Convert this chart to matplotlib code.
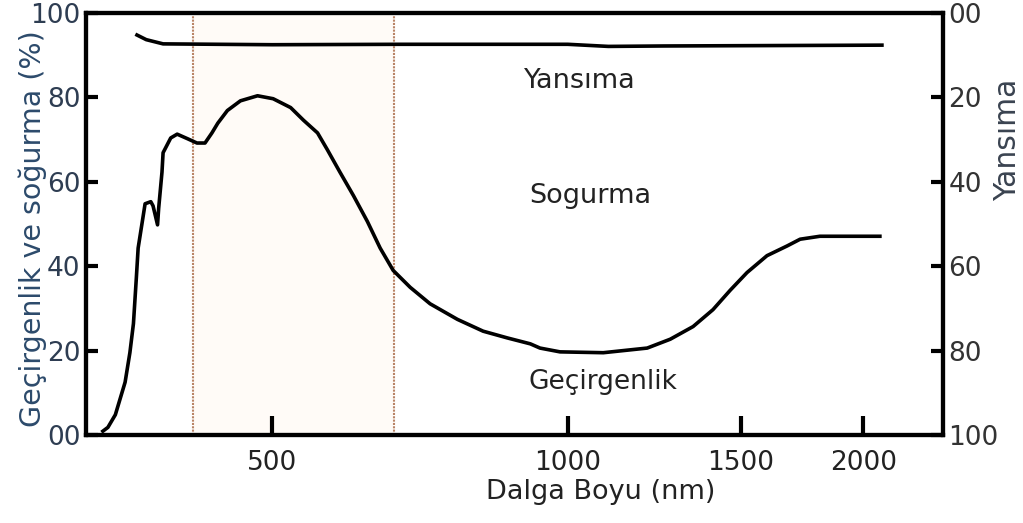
import numpy as np
import matplotlib
matplotlib.use("Agg")
import matplotlib.pyplot as plt
from matplotlib.ticker import FixedLocator, NullLocator, FixedFormatter

plt.rcParams['font.family'] = ['DejaVu Sans']
plt.rcParams['hatch.linewidth'] = 1.2

# gecirgenlik / sogurma egrisi (sol eksen, %)
wl_abs = [336, 340, 346, 354, 358, 361, 363.5, 365, 369, 371,
          376, 378, 382, 383, 386, 387, 394, 400, 410, 419,
          427, 434, 440, 450, 464, 483, 501, 522, 538, 556,
          569, 586, 605, 625, 644, 664, 691, 724, 772, 820,
          868, 916, 937, 982, 1087, 1205, 1272, 1342, 1406, 1464,
          1523, 1596, 1673, 1725, 1807, 2080]
val_abs = [0.9, 1.8, 4.8, 12.5, 19.5, 26.4, 37.4, 44.3, 51.3, 54.8,
           55.3, 54.3, 49.8, 53.7, 62.3, 66.9, 70.4, 71.3, 70.2, 69.2,
           69.2, 71.6, 73.9, 76.9, 79.2, 80.4, 79.7, 77.6, 74.6, 71.6,
           67.6, 62.3, 56.7, 50.6, 44.3, 39.0, 35.0, 31.1, 27.4, 24.6,
           23.0, 21.6, 20.6, 19.7, 19.5, 20.6, 22.7, 25.7, 29.7, 34.3,
           38.5, 42.5, 44.8, 46.4, 47.1, 47.1]

# yansima egrisi (sag eksen, ters)
wl_ref = [364, 372, 387, 500, 675, 1000, 1100, 1250, 2090]
val_ref = [5.2, 6.3, 7.3, 7.5, 7.4, 7.4, 7.9, 7.8, 7.6]

# gorunur bolge
vis_lo, vis_hi = 415, 665

xticks = [500, 1000, 1500, 2000]
yticks = [0, 20, 40, 60, 80, 100]
ylabels = ['00', '20', '40', '60', '80', '100']

fig = plt.figure(figsize=(10.23, 5.23), dpi=100)
ax = fig.add_axes([0.0841, 0.1683, 0.8377, 0.8067])

ax.axvspan(vis_lo, vis_hi, facecolor='#fffbf7', edgecolor='#ebcdb3',
           hatch=':', linewidth=0, zorder=0)
ax.axvline(vis_lo, color='#b98466', lw=1.5, ls=(0, (1, 0.6)), zorder=1)
ax.axvline(vis_hi, color='#b98466', lw=1.5, ls=(0, (1, 0.6)), zorder=1)

ax.plot(wl_abs, val_abs, color='black', lw=2.6, zorder=3)

ax.set_xscale('log')
ax.set_xlim(323, 2412)
ax.set_ylim(0, 100)
ax.xaxis.set_major_locator(FixedLocator(xticks))
ax.xaxis.set_major_formatter(FixedFormatter([str(t) for t in xticks]))
ax.xaxis.set_minor_locator(NullLocator())
ax.set_yticks(yticks)
ax.set_yticklabels(ylabels)

for s in ax.spines.values():
    s.set_linewidth(3)
ax.tick_params(axis='x', direction='in', length=14, width=3, labelsize=19,
               pad=11, colors='black', labelcolor='#222222')
ax.tick_params(axis='y', direction='in', length=8.5, width=3, labelsize=19,
               pad=4, colors='black', labelcolor='#2e3d52')

ax.set_xlabel('Dalga Boyu (nm)', fontsize=19.5, color='#222222')
ax.xaxis.set_label_coords(0.6, -0.105)
ax.set_ylabel('Geçirgenlik ve soğurma (%)', fontsize=20.5, color='#2c4a6b')
ax.yaxis.set_label_coords(-0.046, 0.49)

ax2 = ax.twinx()
ax2.plot(wl_ref, val_ref, color='black', lw=2.6, zorder=3)
ax2.set_ylim(100, 0)
ax2.set_yticks(yticks)
ax2.set_yticklabels(ylabels)
ax2.tick_params(axis='y', direction='in', length=8.5, width=3, labelsize=19,
                pad=4, colors='black', labelcolor='#333333')
for s in ax2.spines.values():
    s.set_linewidth(3)
ax2.set_ylabel('Yansıma', fontsize=21.5, color='#3a4350')
ax2.yaxis.set_label_coords(1.058, 0.70)

ax.text(1030, 83.9, 'Yansıma', fontsize=19.5, ha='center', va='center',
        color='#222222')
ax.text(1054, 56.7, 'Sogurma', fontsize=19.5, ha='center', va='center',
        color='#222222')
ax.text(1086, 12.5, 'Geçirgenlik', fontsize=19, ha='center', va='center',
        color='#222222')

fig.savefig('out.png', dpi=100)
